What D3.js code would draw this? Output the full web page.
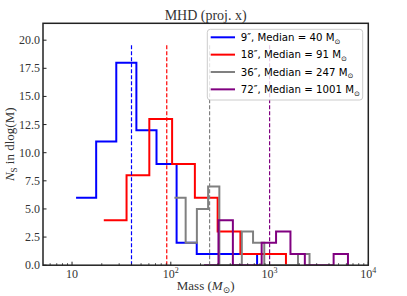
<!DOCTYPE html>
<html><head><meta charset="utf-8">
<script src="https://cdn.jsdelivr.net/npm/d3@7/dist/d3.min.js"></script>
<style>body{margin:0;background:#fff}svg{display:block}</style>
</head><body>
<svg id="c" width="407" height="296"></svg>
<script>
// ---- data ----
const seriesNames = ["9″", "18″", "36″", "72″"];
const seriesColors = ["#0000ff", "#ff0000", "#808080", "#800080"];
const medians = [40, 91, 247, 1001];
const medianTop = 19.6;
// bin edges (mass, Msun) and counts per series
const blueEdges = [10.98, 17.55, 28.05, 44.82, 71.66, 114.5, 183.1, 292.7, 468.0, 747.9];
const blueCounts = [6, 11, 18, 12, 9, 2, 1, 1, 1];
const redEdges = [20.96, 35.64, 60.60, 103.1, 175.3, 298.1, 506.9, 861.9, 1466];
const redCounts = [4, 8, 13, 9, 6, 3, 1, 1];
const grayEdges = [108.8, 141.4, 183.7, 238.7, 310.2, 403.1, 523.8, 680.6, 884.4, 1149, 1493, 1940, 2540];
const grayCounts = [6, 2, 5, 7, 0, 0, 3, 2, 0, 0, 0, 1];
const purpleEdges = [217.3, 303.9, 425.2, 594.8, 832.0, 1164, 1628, 2277, 3185, 4455, 6223];
const purpleCounts = [0, 4, 0, 0, 2, 3, 1, 0, 0, 1];
const yTicks = [0, 2.5, 5, 7.5, 10, 12.5, 15, 17.5, 20];
const xTicks = [10, 100, 1000, 10000];
const xTickLabels = [["10", ""], ["10", "2"], ["10", "3"], ["10", "4"]];

const allEdges = [blueEdges, redEdges, grayEdges, purpleEdges];
const allCounts = [blueCounts, redCounts, grayCounts, purpleCounts];

// ---- layout ----
const L = 43, R = 368.3, T = 23.3, B = 265.2;
const svg = d3.select("#c");
const x = d3.scaleLog().domain([5.08, 10000]).range([L, R]);
const y = d3.scaleLinear().domain([0, 21.5]).range([B, T]);
const serif = "'Liberation Serif', 'DejaVu Serif', serif";
const sans = "'DejaVu Sans', sans-serif";

svg.append("defs").append("clipPath").attr("id", "clip")
  .append("rect").attr("x", L).attr("y", T).attr("width", R - L).attr("height", B - T);

const g = svg.append("g").attr("clip-path", "url(#clip)");

// step histograms
allEdges.forEach((edges, i) => {
  const counts = allCounts[i];
  const p = d3.path();
  p.moveTo(x(edges[0]), y(counts[0]));
  for (let k = 0; k < counts.length; k++) {
    p.lineTo(x(edges[k + 1]), y(counts[k]));
    const next = k + 1 < counts.length ? counts[k + 1] : 0;
    p.lineTo(x(edges[k + 1]), y(next));
  }
  g.append("path").attr("d", p.toString()).attr("fill", "none")
    .attr("stroke", seriesColors[i]).attr("stroke-width", 2)
    .attr("stroke-linejoin", "miter");
});

// median dashed lines
medians.forEach((m, i) => {
  g.append("line").attr("x1", x(m)).attr("x2", x(m))
    .attr("y1", y(0)).attr("y2", y(medianTop))
    .attr("stroke", seriesColors[i]).attr("stroke-width", 1.2)
    .attr("stroke-dasharray", "4,2");
});

// legend
const lg = svg.append("g");
lg.append("rect").attr("x", 207.3).attr("y", 29.3).attr("width", 155.4).attr("height", 70.7)
  .attr("rx", 3).attr("fill", "#fff").attr("fill-opacity", 0.8)
  .attr("stroke", "#cccccc").attr("stroke-width", 1);
seriesNames.forEach((n, i) => {
  const yy = 37.3 + i * 17.35;
  lg.append("line").attr("x1", 210.7).attr("x2", 235).attr("y1", yy).attr("y2", yy)
    .attr("stroke", seriesColors[i]).attr("stroke-width", 2);
  const t = lg.append("text").attr("x", 240.7).attr("y", yy + 3.8)
    .attr("font-family", sans).attr("font-size", 10.2).attr("fill", "#000");
  t.append("tspan").text(n + ", Median = " + medians[i] + " M");
  t.append("tspan").attr("font-size", 7).attr("dy", 2.5).text("⊙");
});

// axes frame
svg.append("rect").attr("x", L).attr("y", T).attr("width", R - L).attr("height", B - T)
  .attr("fill", "none").attr("stroke", "#222").attr("stroke-width", 1.5);

// y ticks
yTicks.forEach(v => {
  svg.append("line").attr("x1", L).attr("x2", L + 3.5).attr("y1", y(v)).attr("y2", y(v))
    .attr("stroke", "#222").attr("stroke-width", 1);
  svg.append("text").attr("x", 40).attr("y", y(v) + 4).attr("text-anchor", "end")
    .attr("font-family", serif).attr("font-size", 12).attr("fill", "#333").text(v.toFixed(1));
});

// x ticks (major + minor)
const minor = [];
for (let e = 0; e < 4; e++) for (let k = 2; k < 10; k++) {
  const v = k * Math.pow(10, e);
  if (v > 5.08 && v < 10000) minor.push(v);
}
minor.forEach(v => {
  svg.append("line").attr("x1", x(v)).attr("x2", x(v)).attr("y1", B).attr("y2", B - 2)
    .attr("stroke", "#222").attr("stroke-width", 0.8);
});
xTicks.forEach((v, i) => {
  svg.append("line").attr("x1", x(v)).attr("x2", x(v)).attr("y1", B).attr("y2", B - 3.5)
    .attr("stroke", "#222").attr("stroke-width", 1);
  const lab = xTickLabels[i];
  const t = svg.append("text").attr("x", x(v)).attr("y", 278).attr("text-anchor", "middle")
    .attr("font-family", serif).attr("font-size", 12).attr("fill", "#333");
  t.append("tspan").text(lab[0]);
  if (lab[1]) t.append("tspan").attr("font-size", 8).attr("dy", -5).text(lab[1]);
});

// title
svg.append("text").attr("x", (L + R) / 2).attr("y", 19.5).attr("text-anchor", "middle")
  .attr("font-family", serif).attr("font-size", 14).attr("fill", "#333").text("MHD (proj. x)");

// x label
const xl = svg.append("text").attr("x", (L + R) / 2).attr("y", 290).attr("text-anchor", "middle")
  .attr("font-family", serif).attr("font-size", 13).attr("fill", "#333");
xl.append("tspan").text("Mass (");
xl.append("tspan").attr("font-style", "italic").text("M");
xl.append("tspan").attr("font-size", 9).attr("dy", 2.5).text("⊙");
xl.append("tspan").attr("dy", -2.5).text(")");

// y label
const yl = svg.append("text").attr("transform", `translate(14,${(T + B) / 2}) rotate(-90)`)
  .attr("text-anchor", "middle").attr("font-family", serif).attr("font-size", 13).attr("fill", "#333");
yl.append("tspan").attr("font-style", "italic").text("N");
yl.append("tspan").attr("font-size", 9).attr("dy", 2.5).text("S");
yl.append("tspan").attr("dy", -2.5).text(" in dlog(M)");
</script>
</body></html>
